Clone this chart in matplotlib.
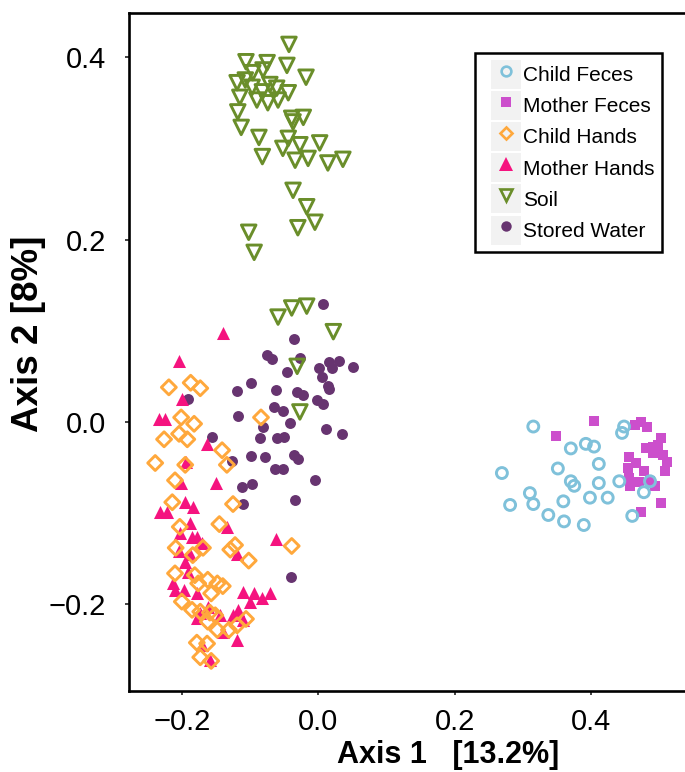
import matplotlib
matplotlib.use("Agg")
import matplotlib.pyplot as plt
from matplotlib.lines import Line2D
from matplotlib.patches import Rectangle

plt.rcParams['font.family'] = ['Liberation Sans', 'DejaVu Sans']

# PCoA coordinates per sample type (Axis 1, Axis 2)
child_feces_x = [0.315, 0.448, 0.445, 0.370, 0.392, 0.404, 0.351, 0.411, 0.269, 0.370,
                 0.375, 0.411, 0.441, 0.310, 0.281, 0.315, 0.359, 0.398, 0.424, 0.337,
                 0.360, 0.389, 0.460, 0.477, 0.486]
child_feces_y = [-0.005, -0.005, -0.012, -0.029, -0.024, -0.027, -0.051, -0.046, -0.056, -0.065,
                 -0.070, -0.067, -0.065, -0.078, -0.091, -0.090, -0.087, -0.083, -0.083, -0.102,
                 -0.109, -0.113, -0.103, -0.077, -0.065]

mother_feces_x = [0.348, 0.404, 0.464, 0.473, 0.482, 0.502, 0.480, 0.490, 0.498, 0.490,
                  0.455, 0.505, 0.511, 0.466, 0.454, 0.477, 0.508, 0.455, 0.457, 0.470,
                  0.493, 0.486, 0.502, 0.473]
mother_feces_y = [-0.015, 0.001, -0.003, 0.000, -0.005, -0.018, -0.029, -0.027, -0.025, -0.034,
                  -0.038, -0.036, -0.044, -0.045, -0.050, -0.054, -0.054, -0.061, -0.070, -0.066,
                  -0.070, -0.065, -0.089, -0.099]

child_hands_x = [-0.219, -0.187, -0.173, -0.201, -0.182, -0.204, -0.192, -0.226, -0.141, -0.134,
                 -0.084, -0.239, -0.195, -0.210, -0.214, -0.125, -0.203, -0.145, -0.209, -0.169,
                 -0.184, -0.129, -0.122, -0.102, -0.039, -0.210, -0.181, -0.162, -0.176, -0.148,
                 -0.140, -0.157, -0.200, -0.185, -0.173, -0.159, -0.151, -0.162, -0.148, -0.131,
                 -0.119, -0.106, -0.178, -0.163, -0.173, -0.157]
child_hands_y = [0.038, 0.043, 0.037, 0.005, -0.002, -0.013, -0.019, -0.019, -0.031, -0.047,
                 0.005, -0.045, -0.047, -0.064, -0.088, -0.090, -0.115, -0.112, -0.138, -0.138,
                 -0.146, -0.140, -0.135, -0.152, -0.136, -0.166, -0.168, -0.173, -0.177, -0.177,
                 -0.180, -0.188, -0.197, -0.206, -0.208, -0.209, -0.212, -0.219, -0.228, -0.228,
                 -0.223, -0.216, -0.242, -0.243, -0.258, -0.262]

mother_hands_x = [-0.140, -0.204, -0.200, -0.233, -0.225, -0.163, -0.194, -0.201, -0.150, -0.195,
                  -0.184, -0.232, -0.222, -0.188, -0.134, -0.203, -0.185, -0.178, -0.170, -0.062,
                  -0.204, -0.188, -0.195, -0.119, -0.191, -0.213, -0.210, -0.197, -0.178, -0.110,
                  -0.094, -0.083, -0.071, -0.100, -0.162, -0.173, -0.178, -0.144, -0.118, -0.125,
                  -0.110, -0.140, -0.119, -0.170, -0.159]
mother_hands_y = [0.098, 0.067, 0.025, 0.003, 0.003, -0.024, -0.044, -0.067, -0.067, -0.088,
                  -0.093, -0.099, -0.099, -0.111, -0.115, -0.122, -0.126, -0.126, -0.133, -0.128,
                  -0.141, -0.145, -0.154, -0.145, -0.164, -0.177, -0.184, -0.184, -0.188, -0.186,
                  -0.188, -0.193, -0.188, -0.197, -0.203, -0.209, -0.215, -0.212, -0.206, -0.212,
                  -0.217, -0.230, -0.239, -0.245, -0.261]

soil_x = [-0.043, -0.106, -0.075, -0.046, -0.018, -0.119, -0.107, -0.096, -0.081, -0.071,
          -0.061, -0.044, -0.115, -0.090, -0.074, -0.059, -0.097, -0.082, -0.118, -0.113,
          -0.039, -0.022, -0.037, -0.087, -0.044, -0.052, -0.027, 0.002, -0.034, -0.015,
          0.014, 0.036, -0.082, -0.037, -0.017, -0.005, -0.030, -0.102, -0.094, -0.059,
          -0.039, -0.017, 0.022, -0.031, -0.027]
soil_y = [0.414, 0.395, 0.394, 0.391, 0.378, 0.372, 0.375, 0.383, 0.386, 0.370,
          0.366, 0.361, 0.356, 0.353, 0.350, 0.353, 0.367, 0.362, 0.340, 0.323,
          0.333, 0.334, 0.329, 0.312, 0.311, 0.300, 0.304, 0.306, 0.287, 0.289,
          0.284, 0.288, 0.291, 0.254, 0.236, 0.219, 0.213, 0.208, 0.186, 0.115,
          0.125, 0.127, 0.099, 0.061, 0.011]

water_x = [0.007, -0.036, -0.075, -0.068, -0.027, 0.016, 0.030, 0.020, 0.001, 0.051,
           -0.046, 0.005, -0.099, 0.014, 0.016, -0.062, -0.031, -0.022, -0.002, 0.007,
           -0.065, -0.052, -0.118, -0.191, -0.119, -0.081, -0.041, -0.156, -0.085, -0.061,
           -0.050, 0.011, -0.126, -0.099, -0.078, -0.036, -0.030, -0.063, -0.052, -0.005,
           -0.112, -0.097, -0.034, -0.110, -0.040, 0.035]
water_y = [0.129, 0.091, 0.073, 0.069, 0.070, 0.066, 0.067, 0.059, 0.059, 0.060,
           0.055, 0.049, 0.043, 0.039, 0.036, 0.035, 0.033, 0.030, 0.024, 0.020,
           0.016, 0.012, 0.007, 0.025, 0.034, -0.005, -0.001, -0.016, -0.018, -0.018,
           -0.016, -0.008, -0.043, -0.037, -0.038, -0.036, -0.041, -0.052, -0.052, -0.064,
           -0.071, -0.068, -0.086, -0.090, -0.170, -0.013]

groups = ["Child Feces", "Mother Feces", "Child Hands", "Mother Hands", "Soil", "Stored Water"]
colors = {"Child Feces": "#7fc1da", "Mother Feces": "#cc4fcc", "Child Hands": "#ffa83c",
          "Mother Hands": "#f5137f", "Soil": "#6a8e2a", "Stored Water": "#673470"}

fig = plt.figure(figsize=(6.85, 7.72), dpi=100)
# panel runs past the right edge of the figure
ax_w_px = 767 - 129
ax = fig.add_axes([129 / 685, 81 / 772, ax_w_px / 685, (691 - 12.5) / 772])

ax.scatter(water_x, water_y, s=62, marker="o", color=colors["Stored Water"], linewidths=0)
ax.scatter(soil_x, soil_y, s=110, marker="v", facecolors="none",
           edgecolors=colors["Soil"], linewidths=2.1)
ax.scatter(mother_feces_x, mother_feces_y, s=58, marker="s", color=colors["Mother Feces"], linewidths=0)
ax.scatter(child_feces_x, child_feces_y, s=62, marker="o", facecolors="none",
           edgecolors=colors["Child Feces"], linewidths=2.1)
ax.scatter(mother_hands_x, mother_hands_y, s=88, marker="^", color=colors["Mother Hands"], linewidths=0)
ax.scatter(child_hands_x, child_hands_y, s=58, marker="D", facecolors="none",
           edgecolors=colors["Child Hands"], linewidths=2.1)

ax.set_xlim(-0.2774, (767 - 318.3) / 682.5)
ax.set_ylim(-0.295, 0.449)
ax.set_xticks([-0.2, 0.0, 0.2, 0.4])
ax.set_yticks([-0.2, 0.0, 0.2, 0.4])
ax.set_xticklabels(["\u22120.2", "0.0", "0.2", "0.4"])
ax.set_yticklabels(["\u22120.2", "0.0", "0.2", "0.4"])
ax.tick_params(direction="out", length=3, width=1.3, color="#333333",
               labelsize=21, labelcolor="black")
ax.tick_params(axis="x", pad=9)
ax.tick_params(axis="y", pad=13.5)
for side in ["left", "bottom", "top", "right"]:
    ax.spines[side].set_linewidth(1.9)

ax.set_xlabel("Axis 1   [13.2%]", fontsize=22, fontweight="bold", labelpad=3)
ax.set_ylabel("Axis 2 [8%]", fontsize=26.5, fontweight="bold")
ax.yaxis.set_label_coords((46 - 129) / ax_w_px, (691 - 334) / (691 - 12.5))

# legend keys: grey background square with the group marker on top
key_styles = {
    "Child Feces": dict(marker="o", markersize=7, markerfacecolor="none", markeredgewidth=1.9),
    "Mother Feces": dict(marker="s", markersize=7.5, markeredgewidth=0),
    "Child Hands": dict(marker="D", markersize=6.5, markerfacecolor="none", markeredgewidth=1.9),
    "Mother Hands": dict(marker="^", markersize=9.5, markeredgewidth=0),
    "Soil": dict(marker="v", markersize=8, markerfacecolor="none", markeredgewidth=1.9),
    "Stored Water": dict(marker="o", markersize=7.5, markeredgewidth=0),
}
handles = []
for g in groups:
    bg = Rectangle((0, 0), 1, 1, facecolor="#f2f2f2", edgecolor="none")
    mk = Line2D([], [], linestyle="none", color=colors[g], markeredgecolor=colors[g], **key_styles[g])
    handles.append((bg, mk))

leg = fig.legend(handles, groups, loc="upper left", bbox_to_anchor=(491 / 685, 1 - 60 / 772),
                 bbox_transform=fig.transFigure, frameon=False, fontsize=15,
                 handlelength=1.43, handleheight=1.766, labelspacing=0.1,
                 handletextpad=0.1, borderpad=0, borderaxespad=0)
leg.set_zorder(6)
fig.add_artist(Rectangle((475 / 685, 1 - 252 / 772), 187 / 685, 199 / 772,
                         transform=fig.transFigure, facecolor="white",
                         edgecolor="black", linewidth=1.8, zorder=5))

fig.savefig("out.png", dpi=100)
